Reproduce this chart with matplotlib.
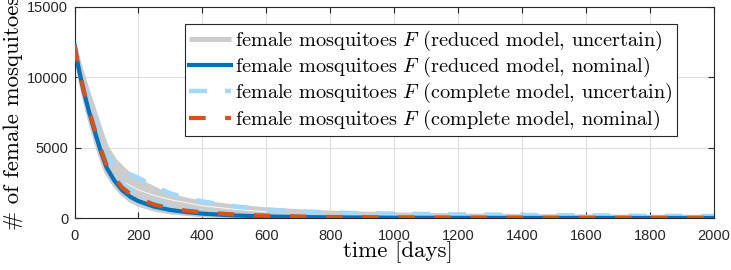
import matplotlib
matplotlib.use("Agg")
import matplotlib.pyplot as plt

# ---- data ----
t = [0, 10, 20, 30, 45, 60, 80, 100, 125, 150, 175, 200, 250, 300, 350, 400,
     500, 600, 700, 800, 1000, 1200, 1500, 1750, 2000]
reduced_nominal = [12300, 11000, 9900, 8900, 7600, 6400, 4900, 3600, 2650, 1950, 1500,
                   1200, 800, 570, 420, 310, 180, 110, 70, 45, 20, 10, 5, 3, 2]
complete_nominal = [12300, 11050, 10000, 9000, 7700, 6550, 5050, 3800, 2850, 2150, 1700,
                    1400, 950, 680, 520, 400, 250, 170, 110, 70, 40, 28, 18, 14, 12]
reduced_unc_low = [12300, 10800, 9600, 8600, 7200, 6000, 4500, 3250, 2350, 1700, 1250,
                   950, 600, 400, 290, 200, 110, 60, 35, 20, 10, 5, 2, 1, 0]
reduced_unc_high = [12300, 11300, 10500, 9800, 8700, 7700, 6300, 5000, 4100, 3500, 3000,
                    2650, 2050, 1550, 1270, 1060, 780, 580, 450, 350, 220, 150, 90, 60, 40]
complete_unc_high = [12300, 11250, 10400, 9600, 8400, 7300, 5800, 4500, 3800, 3400, 3100,
                     2850, 2250, 1750, 1420, 1180, 830, 600, 470, 390, 310, 260, 200, 165, 140]
complete_unc_low = [12300, 11100, 10100, 9200, 7900, 6800, 5300, 4050, 3100, 2450, 2000,
                    1650, 1150, 820, 610, 470, 300, 200, 140, 110, 80, 65, 50, 40, 30]
gap_t = [150, 200, 250, 300, 400, 500, 600]
gap_F = [2600, 2000, 1600, 1300, 870, 620, 440]

labels = [r"female mosquitoes $F$ (reduced model, uncertain)",
          r"female mosquitoes $F$ (reduced model, nominal)",
          r"female mosquitoes $F$ (complete model, uncertain)",
          r"female mosquitoes $F$ (complete model, nominal)"]
xticks = [0, 200, 400, 600, 800, 1000, 1200, 1400, 1600, 1800, 2000]
yticks = [0, 5000, 10000, 15000]

plt.rcParams['mathtext.fontset'] = 'cm'
plt.rcParams['lines.scale_dashes'] = False

GREY = '#cccccc'
BLUE = '#0072BD'
ORANGE = '#D95319'
LBLUE = '#a3d8fb'
AX = '#262626'

fig = plt.figure(figsize=(7.31, 2.70), dpi=100)
ax = fig.add_axes([74.5/731, 1 - 218/270, 639.5/731, 211/270])

ax.fill_between(t, reduced_unc_low, reduced_unc_high, color=GREY, lw=0, zorder=1)
h_grey, = ax.plot(t, reduced_unc_high, color=GREY, lw=3.6, zorder=1,
                  solid_capstyle='butt')
ax.plot(t, reduced_unc_low, color=GREY, lw=3.0, zorder=1)
ax.plot(gap_t, gap_F, color='white', lw=0.7, alpha=0.9, zorder=1.5)

h_lb, = ax.plot(t, complete_unc_high, color=LBLUE, lw=3.2, dashes=(13, 13),
                dash_capstyle='butt', zorder=2)
ax.plot(t, complete_unc_low, color=LBLUE, lw=3.2, dashes=(13, 13),
        dash_capstyle='butt', zorder=2)
h_blue, = ax.plot(t, reduced_nominal, color=BLUE, lw=3.0, zorder=3)
h_or, = ax.plot(t, complete_nominal, color=ORANGE, lw=3.0, dashes=(12, 14),
                dash_capstyle='butt', zorder=4)

ax.set_xlim(0, 2000)
ax.set_ylim(0, 15000)
ax.set_xticks(xticks)
ax.set_yticks(yticks)
ax.grid(True, color='#dedede', lw=0.8)
ax.set_axisbelow(True)
for s in ax.spines.values():
    s.set_color(AX)
    s.set_linewidth(0.8)
ax.tick_params(direction='in', top=True, right=True, length=4.5, width=0.8,
               color=AX, labelcolor=AX, labelsize=10.5)
ax.tick_params(axis='x', pad=8)
ax.tick_params(axis='y', pad=4.5)
for lab in ax.get_xticklabels() + ax.get_yticklabels():
    lab.set_family('Liberation Sans')

ax.set_xlabel('time [days]', family='cmr10', fontsize=16.5, color='black')
ax.set_ylabel('# of female mosquitoes', family='cmr10', fontsize=16.5, color='black')
ax.xaxis.set_label_coords(0.505, -0.112)
ax.yaxis.set_label_coords(-0.08, 0.5)

leg = ax.legend([h_grey, h_blue, h_lb, h_or], labels, loc='upper right',
                bbox_to_anchor=(0.942, 0.919), borderaxespad=0, fancybox=False,
                framealpha=1, edgecolor=AX, handlelength=2.05, handletextpad=0.2,
                labelspacing=0.11, borderpad=0.22, prop={'family': 'cmr10', 'size': 14.6})
leg.get_frame().set_linewidth(0.8)

fig.savefig('out.png', dpi=100)
